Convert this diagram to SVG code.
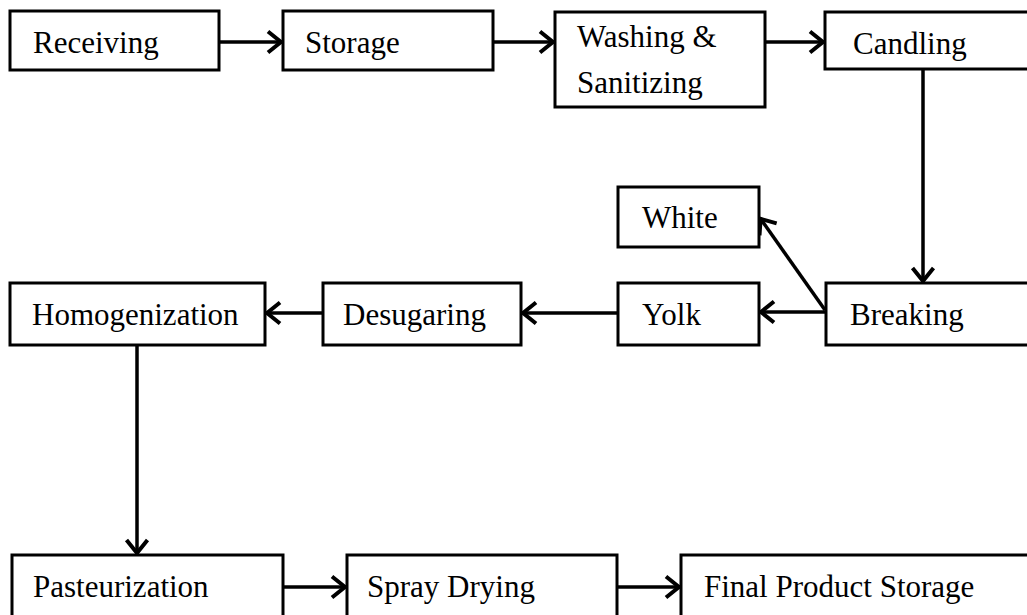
<svg xmlns="http://www.w3.org/2000/svg" width="1027" height="615" viewBox="0 0 1027 615">
<style>
.box{fill:#fff;stroke:#000;stroke-width:3}
.t{font-family:"Liberation Serif","Times New Roman",serif;font-size:31px;fill:#000}
.c{stroke:#000;stroke-width:3.5;fill:none}
</style>
<defs>
<marker id="ah" markerUnits="userSpaceOnUse" viewBox="-20 -15 24 30" refX="0" refY="0" markerWidth="24" markerHeight="30" orient="auto" overflow="visible">
<path d="M-14,-10.5 L-1,0 L-14,10.5" fill="none" stroke="#000" stroke-width="4" stroke-linejoin="miter"/>
</marker>
</defs>
<rect width="1027" height="615" fill="#fff"/>
<g id="connectors">
<line class="c" x1="219" y1="42" x2="282" y2="42" marker-end="url(#ah)"/>
<line class="c" x1="493" y1="42" x2="554" y2="42" marker-end="url(#ah)"/>
<line class="c" x1="765" y1="42" x2="824" y2="42" marker-end="url(#ah)"/>
<line class="c" x1="923" y1="70" x2="923" y2="282" marker-end="url(#ah)"/>
<line class="c" x1="826" y1="312" x2="760" y2="312" marker-end="url(#ah)"/>
<line class="c" x1="825" y1="310" x2="760" y2="218" marker-end="url(#ah)"/>
<line class="c" x1="618" y1="313" x2="522" y2="313" marker-end="url(#ah)"/>
<line class="c" x1="323" y1="313" x2="266" y2="313" marker-end="url(#ah)"/>
<line class="c" x1="137" y1="345" x2="137" y2="554" marker-end="url(#ah)"/>
<line class="c" x1="283" y1="587" x2="346" y2="587" marker-end="url(#ah)"/>
<line class="c" x1="617" y1="587" x2="680" y2="587" marker-end="url(#ah)"/>
</g>
<g id="receiving"><rect class="box" x="10" y="11" width="209" height="59"/><text class="t" x="33" y="53">Receiving</text></g>
<g id="storage"><rect class="box" x="283" y="11" width="210" height="59"/><text class="t" x="305" y="53">Storage</text></g>
<g id="washing"><rect class="box" x="555" y="12" width="210" height="95"/><text class="t" x="577" y="47">Washing &amp;</text><text class="t" x="577" y="93">Sanitizing</text></g>
<g id="candling"><rect class="box" x="825" y="12" width="210" height="57"/><text class="t" x="853" y="54">Candling</text></g>
<g id="white"><rect class="box" x="618" y="187" width="141" height="60"/><text class="t" x="642" y="228">White</text></g>
<g id="yolk"><rect class="box" x="618" y="283" width="141" height="62"/><text class="t" x="642" y="325">Yolk</text></g>
<g id="breaking"><rect class="box" x="826" y="283" width="210" height="62"/><text class="t" x="850" y="325">Breaking</text></g>
<g id="desugaring"><rect class="box" x="323" y="283" width="198" height="62"/><text class="t" x="343" y="325">Desugaring</text></g>
<g id="homogenization"><rect class="box" x="10" y="283" width="255" height="62"/><text class="t" x="32" y="325">Homogenization</text></g>
<g id="pasteurization"><rect class="box" x="12" y="555" width="271" height="70"/><text class="t" x="33" y="597">Pasteurization</text></g>
<g id="spray"><rect class="box" x="347" y="555" width="270" height="70"/><text class="t" x="367" y="597">Spray Drying</text></g>
<g id="final"><rect class="box" x="681" y="555" width="360" height="70"/><text class="t" x="704" y="597">Final Product Storage</text></g>
</svg>
